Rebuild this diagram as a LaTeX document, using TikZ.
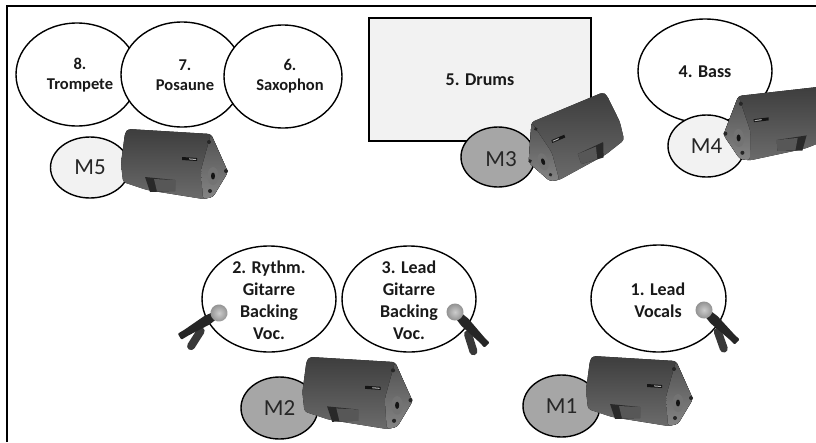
\documentclass[tikz,border=0pt]{standalone}
\usepackage{fontspec}
\setmainfont{Carlito}
\usetikzlibrary{shapes.geometric}
\definecolor{lightfill}{HTML}{F2F2F2}
\definecolor{midfill}{HTML}{A6A6A6}
\tikzset{
  x=1pt,y=-1pt,
  oval/.style={draw=black,line width=1.4pt,ellipse,inner sep=0pt,fill=white},
  lab/.style={font=\fontsize{18}{22}\selectfont\bfseries,align=center,inner sep=0pt,text=black!90},
  labsmall/.style={font=\fontsize{16.5}{20}\selectfont\bfseries,align=center,inner sep=0pt,text=black!90},
  mlabel/.style={font=\fontsize{23}{26}\selectfont,text=black!85},
  speaker/.pic={
    \fill[rounded corners=3pt,top color=black!76,bottom color=black!58]
      (-47,-36)--(36,-31)--(53,7)--(38,32)--(28,34)--(-28,25)--(-52,17)--(-54,-2)--(-50,-32)--cycle;
    \fill[rounded corners=3pt,top color=black!68,bottom color=black!48] (36,-31)--(53,7)--(38,32)--(28,34)--(26,5)--cycle;
    \fill[black!84] (-30,12)--(0,15)--(0,26)--(-25,27)--cycle;
    \fill[black!66] (-21,14)--(0,15)--(0,26)--(-18,26.5)--cycle;
    \fill[black!92] (7,-8)--(22,-7)--(22,-4)--(7,-5)--cycle;
    \fill[black!30] (14,-6.6)--(21,-6)--(21,-5)--(14,-5.6)--cycle;
    \fill[black!55] (38,11) ellipse[x radius=5.5,y radius=9];
    \fill[black!92] (38,11) ellipse[x radius=2,y radius=3.5];
    \foreach \p in {(34,-23),(51,6),(35,26)} \fill[black!85] \p circle[radius=2];
  },
  mic/.pic={
    \draw[black!78,line width=8pt,line cap=round] (25,6)--(41,14);
    \fill[black!85,rounded corners=1pt] (6,-4)--(14,-5)--(38,-3.5)--(46,-3.5)--(46,3.5)--(38,3.5)--(14,5)--(6,4)--cycle;
    \shade[inner color=black!20,outer color=black!45] (0,0) circle[radius=8.5];
  }
}
\begin{document}
\begin{tikzpicture}
\useasboundingbox (0,0) rectangle (816,442);
\fill[white] (0,0) rectangle (816,442);
\draw[black,line width=1.4pt] (7,442)--(7,6)--(816,6);

\node[oval,minimum width=122pt,minimum height=103pt] (e8) at (77,74.5) {};
\node[oval,minimum width=122pt,minimum height=105pt] (e7) at (182,74.5) {};
\node[oval,minimum width=118pt,minimum height=103pt] (e6) at (283,76.5) {};
\node[labsmall] (t8) at (80,75) {8.\\Trompete};
\node[labsmall] (t7) at (185,75) {7.\\Posaune};
\node[labsmall] (t6) at (290,76) {6.\\Saxophon};

\node[draw=black,line width=1.4pt,fill=lightfill,minimum width=222pt,minimum height=123pt,inner sep=0pt] (drums) at (480,79.5) {};
\node[lab] (t5) at (480,80) {5. Drums};

\node[oval,minimum width=134pt,minimum height=104pt] (e4) at (705,71) {};
\node[lab] (t4) at (705,72) {4. Bass};

\node[oval,minimum width=134pt,minimum height=106pt] (e2) at (269,299) {};
\node[lab] (t2) at (269,300) {2. Rythm.\\Gitarre\\Backing\\Voc.};
\node[oval,minimum width=134pt,minimum height=106pt] (e3) at (409,299) {};
\node[lab] (t3) at (409,300) {3. Lead\\Gitarre\\Backing\\Voc.};
\node[oval,minimum width=135pt,minimum height=107pt] (e1) at (658.5,298.5) {};
\node[lab] (t1) at (658,300) {1. Lead\\Vocals};

\node[oval,fill=lightfill,minimum width=79pt,minimum height=61pt,mlabel] (m5) at (90,167.5) {M5};
\node[oval,fill=midfill,minimum width=74pt,minimum height=60pt] (m3) at (498,157) {};
\node[mlabel,inner sep=0pt] (t3m) at (501,159) {M3};
\node[oval,fill=lightfill,minimum width=77pt,minimum height=62pt,mlabel] (m4) at (706.5,146) {M4};
\node[oval,fill=midfill,minimum width=77pt,minimum height=62pt,mlabel] (m2) at (279.5,408) {M2};
\node[oval,fill=midfill,minimum width=77pt,minimum height=62pt,mlabel] (m1) at (561.5,406) {M1};

\pic (s5) at (175,165) {speaker};
\pic[rotate=19,xscale=-0.93,yscale=0.98] (s3) at (573,140) {speaker};
\pic[rotate=3,xscale=-1] (s4) at (776,125) {speaker};
\pic[scale=1.03] (s2) at (358,394) {speaker};
\pic (s1) at (640,392) {speaker};

\pic[rotate=31,xscale=-1] (k2) at (219,313) {mic};
\pic[rotate=-46] (k3) at (455,312) {mic};
\pic[rotate=-44] (k1) at (704,310) {mic};
\end{tikzpicture}
\end{document}
